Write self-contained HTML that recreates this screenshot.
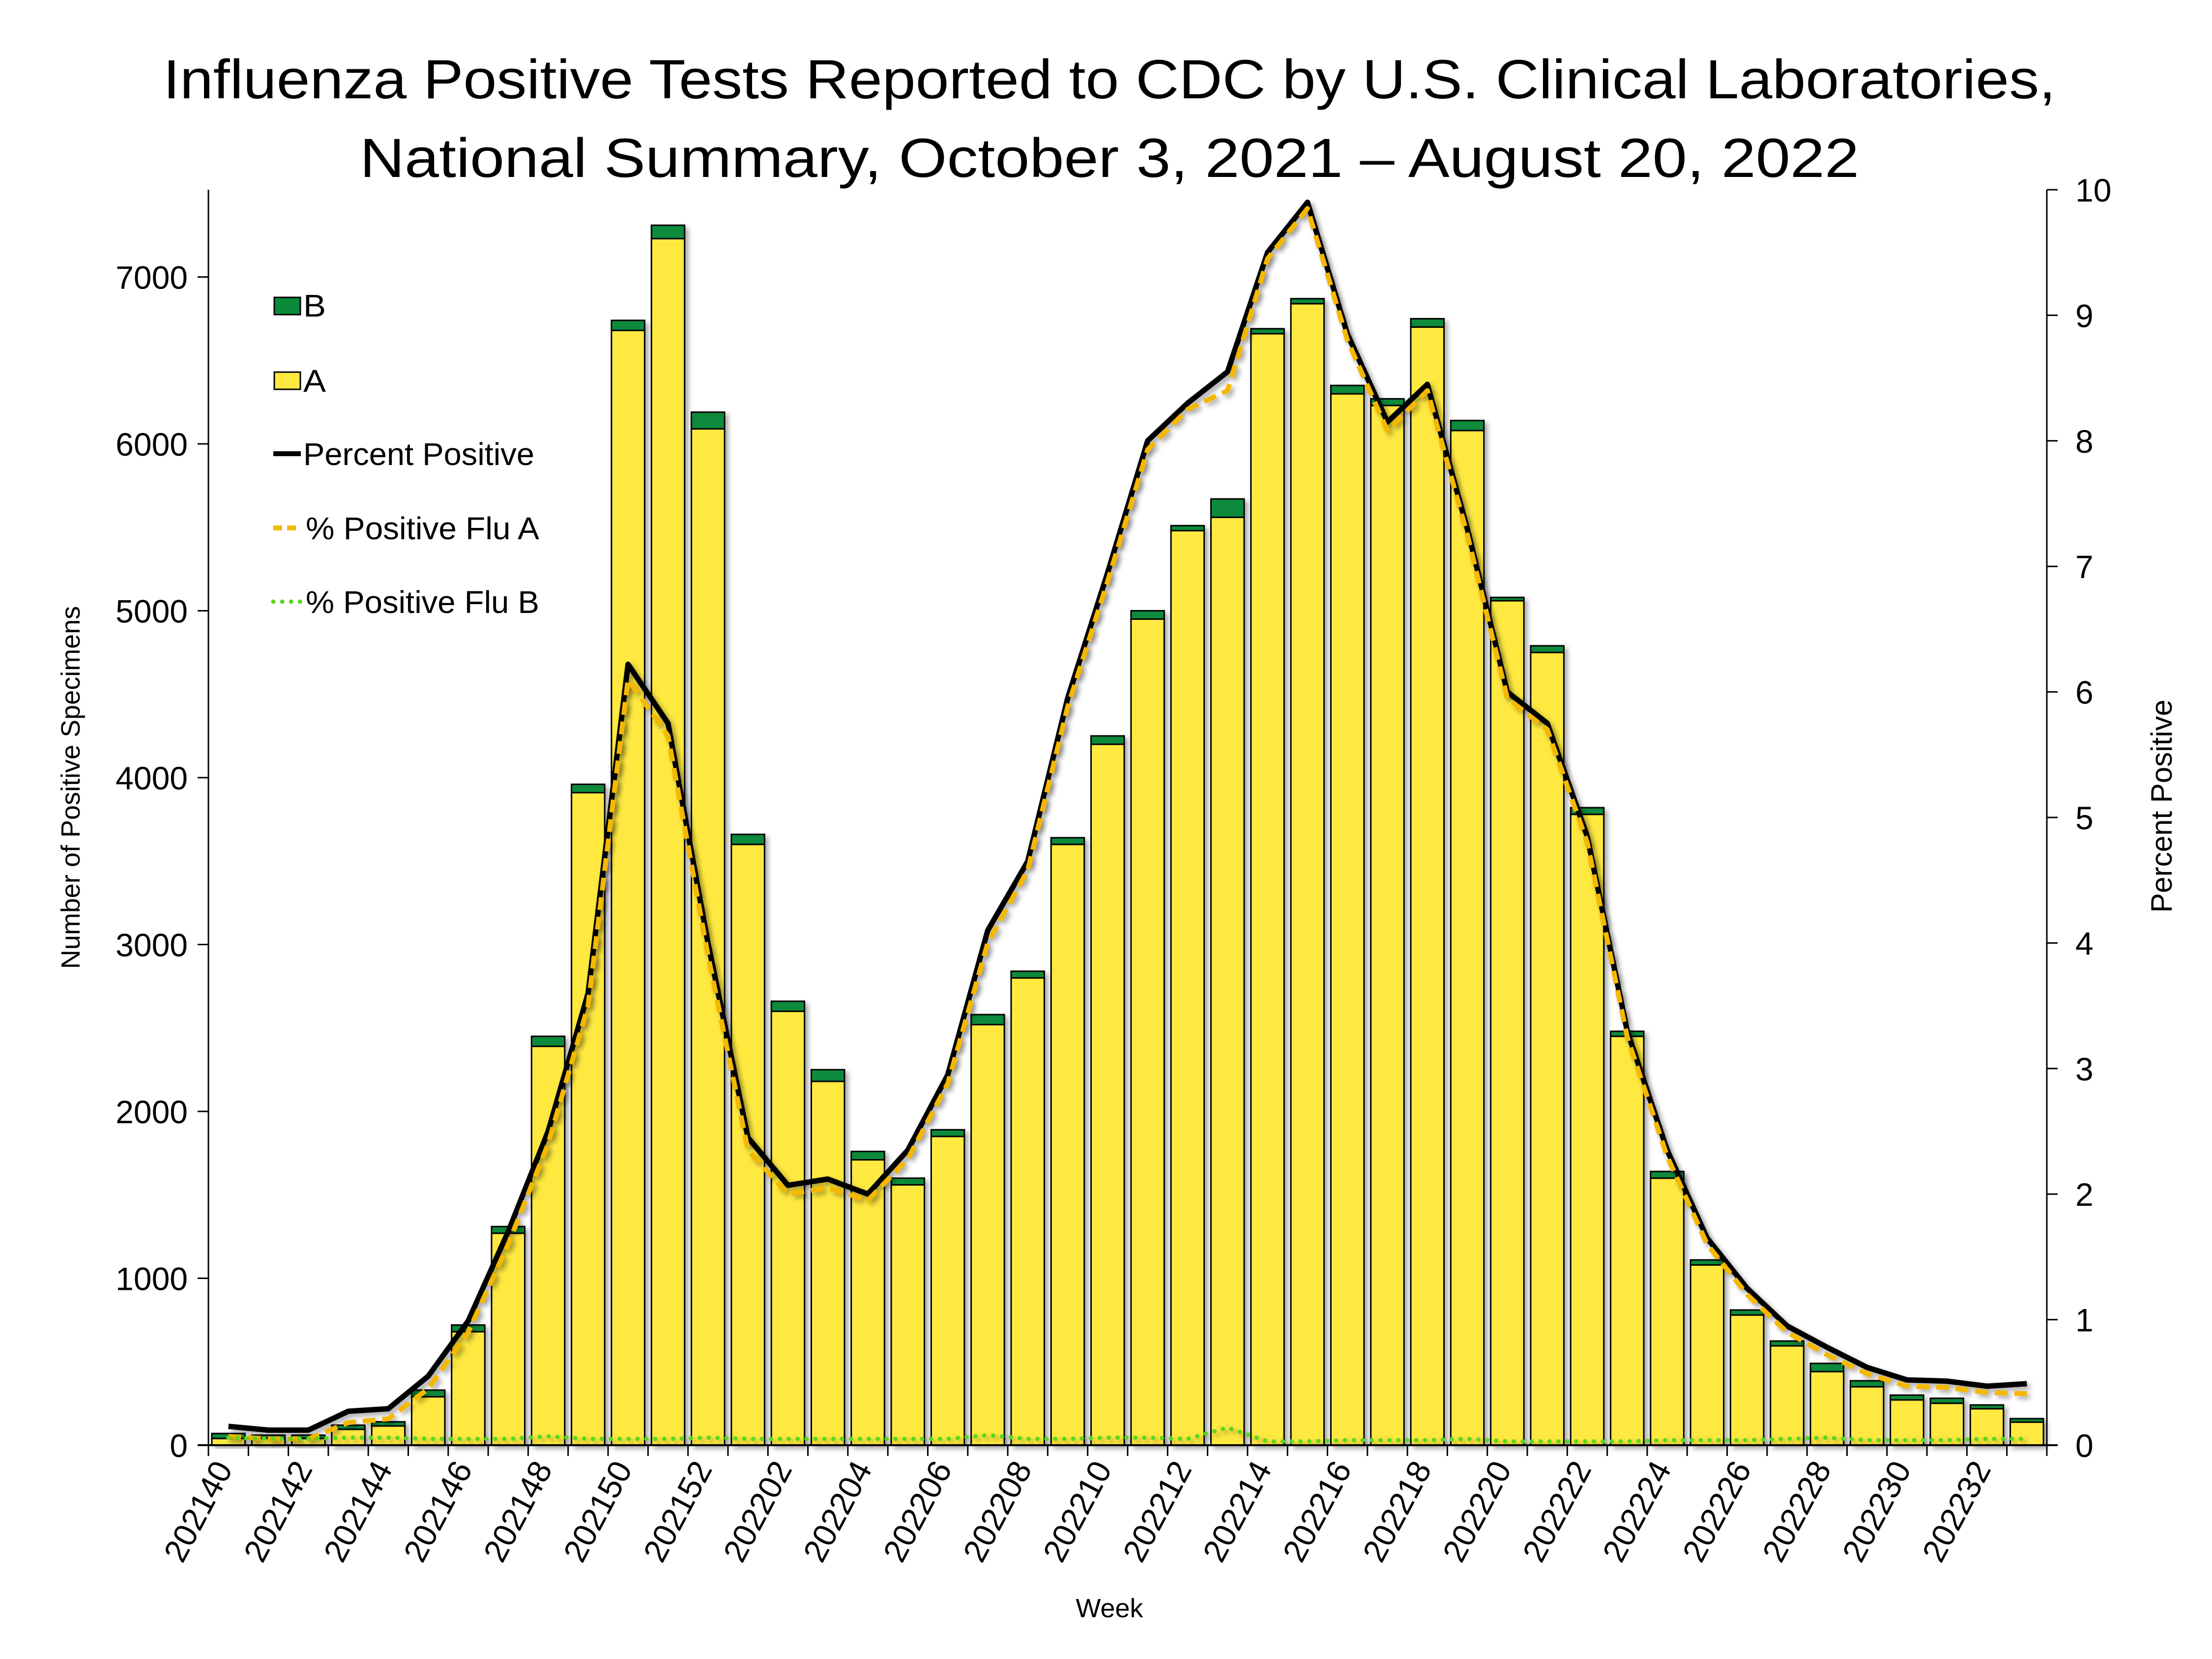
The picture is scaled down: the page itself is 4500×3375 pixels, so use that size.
<!DOCTYPE html>
<html><head><meta charset="utf-8"><style>
html,body{margin:0;padding:0;background:#fff}
svg{display:block}
text{font-family:"Liberation Sans",sans-serif;fill:#000}
</style></head><body>
<svg id="chart" width="4500" height="3375" viewBox="0 0 4500 3375" xmlns="http://www.w3.org/2000/svg">
<defs>
<filter id="sh" x="-20%" y="-20%" width="150%" height="150%"><feDropShadow dx="6" dy="6" stdDeviation="5" flood-color="#000" flood-opacity="0.35"/></filter>
</defs>
<text x="2257" y="200" font-size="112" text-anchor="middle" textLength="3850" lengthAdjust="spacingAndGlyphs">Influenza Positive Tests Reported to CDC by U.S. Clinical Laboratories,</text>
<text x="2257" y="360" font-size="112" text-anchor="middle" textLength="3050" lengthAdjust="spacingAndGlyphs">National Summary, October 3, 2021 – August 20, 2022</text>
<g id="bars"></g>
<g id="lines"></g>
<g id="axes"></g>
<text transform="translate(162,1602) rotate(-90)" font-size="54" text-anchor="middle">Number of Positive Specimens</text>
<text transform="translate(4418,1640) rotate(-90)" font-size="60" text-anchor="middle">Percent Positive</text>
<text x="2257" y="3290" font-size="54" text-anchor="middle">Week</text>
<g>
 <rect x="558" y="605" width="53" height="35" fill="#0A8A3A" stroke="#000" stroke-width="3"/>
 <text x="617" y="644" font-size="64" textLength="46" lengthAdjust="spacingAndGlyphs">B</text>
 <rect x="558" y="757" width="53" height="35" fill="#FFE93F" stroke="#000" stroke-width="3"/>
 <text x="617" y="797" font-size="64" textLength="46" lengthAdjust="spacingAndGlyphs">A</text>
 <line x1="556" y1="923" x2="612" y2="923" stroke="#000" stroke-width="10"/>
 <text x="617" y="946" font-size="64" textLength="470" lengthAdjust="spacingAndGlyphs">Percent Positive</text>
 <line x1="556" y1="1074" x2="612" y2="1074" stroke="#F5B800" stroke-width="10" stroke-dasharray="18 10"/>
 <text x="622" y="1097" font-size="64" textLength="475" lengthAdjust="spacingAndGlyphs">% Positive Flu A</text>
 <line x1="556" y1="1224" x2="612" y2="1224" stroke="#5AD81E" stroke-width="9" stroke-linecap="round" stroke-dasharray="0.1 18"/>
 <text x="622" y="1247" font-size="64" textLength="475" lengthAdjust="spacingAndGlyphs">% Positive Flu B</text>
</g>
</svg>
<script>
const weeks=["202140","202141","202142","202143","202144","202145","202146","202147","202148","202149","202150","202151","202152","202201","202202","202203","202204","202205","202206","202207","202208","202209","202210","202211","202212","202213","202214","202215","202216","202217","202218","202219","202220","202221","202222","202223","202224","202225","202226","202227","202228","202229","202230","202231","202232","202233"];
const fluA=[40,40,40,95,115,290,680,1270,2390,3910,6680,7230,6090,3600,2600,2180,1710,1560,1850,2520,2800,3600,4200,4950,5480,5560,6660,6840,6300,6230,6700,6080,5060,4750,3780,2450,1600,1080,780,595,441,350,271,251,218,138];
const fluB=[30,20,20,25,25,40,40,40,60,50,60,80,100,60,60,70,50,40,40,60,40,40,50,50,30,110,30,30,50,40,50,60,20,40,40,30,40,30,30,29,49,36,29,30,23,21];
const pctTotal=[0.15,0.12,0.12,0.27,0.29,0.55,0.99,1.7,2.5,3.6,6.22,5.75,4.0,2.45,2.07,2.12,2.0,2.35,2.95,4.1,4.65,5.95,6.95,8.0,8.3,8.55,9.5,9.9,8.85,8.15,8.45,7.3,6.0,5.75,4.85,3.3,2.35,1.65,1.25,0.95,0.78,0.62,0.52,0.51,0.47,0.49];
const pctA=[0.07,0.05,0.05,0.18,0.21,0.45,0.9,1.6,2.4,3.5,6.1,5.65,3.9,2.35,2.0,2.05,1.95,2.28,2.88,4.0,4.58,5.88,6.88,7.93,8.25,8.4,9.45,9.85,8.8,8.08,8.4,7.25,5.95,5.7,4.8,3.25,2.3,1.6,1.2,0.9,0.72,0.57,0.47,0.46,0.42,0.41];
const pctB=[0.06,0.05,0.05,0.06,0.06,0.05,0.05,0.05,0.07,0.05,0.05,0.05,0.06,0.05,0.05,0.05,0.05,0.05,0.05,0.08,0.05,0.05,0.06,0.06,0.05,0.14,0.03,0.03,0.04,0.04,0.04,0.05,0.03,0.03,0.03,0.03,0.04,0.04,0.04,0.05,0.06,0.04,0.04,0.04,0.05,0.05];
const yTicks=[0,1000,2000,3000,4000,5000,6000,7000];
const y2Ticks=[0,1,2,3,4,5,6,7,8,9,10];

const NS="http://www.w3.org/2000/svg";
const X0=424,X1=4164,Y0=2940,YTOP=386;
const slot=(X1-X0)/weeks.length;
const xC=i=>X0+slot*(i+0.5);
const yL=v=>Y0-v*339.5/1000;
const yR=v=>Y0-v*255.4;
function mk(tag,attrs,parent){const e=document.createElementNS(NS,tag);for(const k in attrs)e.setAttribute(k,attrs[k]);parent.appendChild(e);return e;}
const gb=document.getElementById('bars'),gl=document.getElementById('lines'),ga=document.getElementById('axes');
const bw=slot*0.83;
weeks.forEach((w,i)=>{
  const g=mk('g',{filter:'url(#sh)'},gb);
  
  
  const ya=yL(fluA[i]),yb=yL(fluA[i]+fluB[i]);
  const ra=mk('rect',{x:xC(i)-bw/2,y:ya,width:bw,height:Y0-ya,fill:'#FFE93F',stroke:'#000','stroke-width':3},g);
  
  
  const rb=mk('rect',{x:xC(i)-bw/2,y:yb,width:bw,height:ya-yb,fill:'#0A8A3A',stroke:'#000','stroke-width':3},g);
  
  
});
function line(arr,attrs,name){
  const p=arr.map((v,i)=>(i?'L':'M')+xC(i).toFixed(1)+','+yR(v).toFixed(1)).join('');
  const e=mk('path',Object.assign({d:p,fill:'none',filter:'url(#sh)','stroke-linejoin':'round'},attrs),gl);
  
  
}
line(pctTotal,{stroke:'#000','stroke-width':11},'line-percent-positive');
line(pctA,{stroke:'#F5B800','stroke-width':10,'stroke-dasharray':'26 14'},'line-percent-flu-a');
line(pctB,{stroke:'#5AD81E','stroke-width':9,'stroke-linecap':'round','stroke-dasharray':'0.1 18'},'line-percent-flu-b');
// axes
let a=mk('line',{x1:X0,y1:YTOP,x2:X0,y2:Y0,stroke:'#000','stroke-width':3},ga);

a=mk('line',{x1:X1,y1:YTOP,x2:X1,y2:Y0,stroke:'#000','stroke-width':3},ga);

a=mk('line',{x1:X0-22,y1:Y0,x2:X1+22,y2:Y0,stroke:'#000','stroke-width':4},ga);

yTicks.forEach(v=>{
  mk('line',{x1:X0-22,y1:yL(v),x2:X0,y2:yL(v),stroke:'#000','stroke-width':3},ga);
  const t=mk('text',{x:X0-42,y:yL(v)+24,'font-size':66,'text-anchor':'end'},ga);
  
  
  t.textContent=v;
});
y2Ticks.forEach(v=>{
  mk('line',{x1:X1,y1:yR(v),x2:X1+22,y2:yR(v),stroke:'#000','stroke-width':3},ga);
  const t=mk('text',{x:X1+58,y:yR(v)+24,'font-size':66,'text-anchor':'start'},ga);
  
  
  t.textContent=v;
});
for(let i=0;i<=weeks.length;i++){
  const x=X0+slot*i;
  mk('line',{x1:x,y1:Y0,x2:x,y2:Y0+22,stroke:'#000','stroke-width':3},ga);
}
weeks.forEach((w,i)=>{
  if(i%2)return;
  const t=mk('text',{transform:'translate('+(xC(i)+10)+','+(Y0+48)+') rotate(-62)','font-size':66,'text-anchor':'end'},ga);
  
  
  t.textContent=w;
});
</script>
</body></html>
